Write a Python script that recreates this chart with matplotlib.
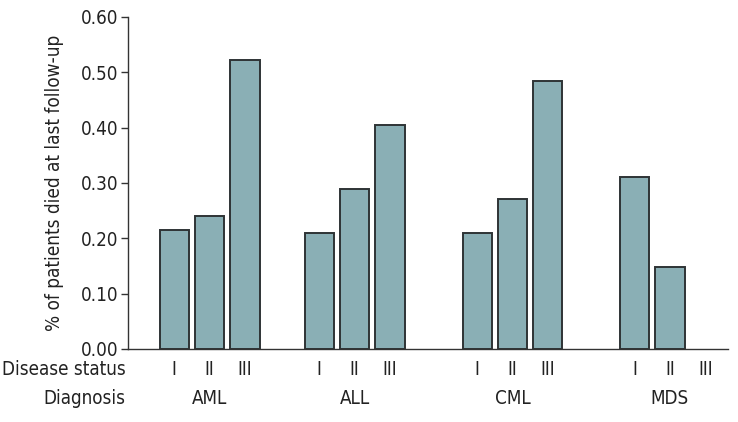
import matplotlib
matplotlib.use('Agg')
import matplotlib.pyplot as plt
import matplotlib.transforms as mtransforms

plt.rcParams['font.family'] = ['DejaVu Sans']
plt.rcParams['font.stretch'] = 'condensed'

# data
diagnosis = ['AML', 'ALL', 'CML', 'MDS']
status = ['I', 'II', 'III']
died = {
    'AML': [0.215, 0.241, 0.523],
    'ALL': [0.210, 0.289, 0.405],
    'CML': [0.210, 0.271, 0.485],
    'MDS': [0.311, 0.148, 0.0],
}
yticks = [0.0, 0.1, 0.2, 0.3, 0.4, 0.5, 0.6]

# layout (x in pixel-like units)
group_center = [209.5, 354.5, 512.5, 670.0]
slot = 35.3
bar_w = 29.4
bar_color = '#8aafb5'
edge_color = '#2e3335'
txt = '#222222'

fig = plt.figure(figsize=(7.38, 4.22), dpi=100)
ax = fig.add_axes([128/738, (422-349)/422, 600/738, 332/422])
trans = mtransforms.blended_transform_factory(ax.transData, ax.transAxes)

for g, name in enumerate(diagnosis):
    xs = [group_center[g] + (i-1)*slot for i in range(3)]
    vals = died[name]
    for x, v in zip(xs, vals):
        if v > 0:
            ax.bar(x, v, width=bar_w, color=bar_color, edgecolor=edge_color, linewidth=1.4, zorder=2)
    for x, s in zip(xs, status):
        ax.text(x, -0.063, s, transform=trans, ha='center', va='center', fontsize=13.5, color=txt)
    ax.text(group_center[g], -0.148, name, transform=trans, ha='center', va='center', fontsize=13.5, color=txt)

ax.text(-0.004, -0.063, 'Disease status', transform=ax.transAxes, ha='right', va='center', fontsize=13.5, color=txt)
ax.text(-0.004, -0.148, 'Diagnosis', transform=ax.transAxes, ha='right', va='center', fontsize=13.5, color=txt)

ax.set_xlim(128, 728)
ax.set_ylim(0, 0.6)
ax.set_yticks(yticks)
ax.set_yticklabels(['%.2f' % t for t in yticks], fontsize=13.5, color=txt)
ax.set_xticks([])
ax.tick_params(axis='y', direction='out', length=5, width=1.0, color='#333333', pad=2)
ax.set_ylabel('% of patients died at last follow-up', fontsize=13.6, color=txt, labelpad=12)

for side in ['top', 'right']:
    ax.spines[side].set_visible(False)
ax.spines['left'].set_color('#333333')
ax.spines['bottom'].set_color('#333333')
ax.spines['left'].set_linewidth(1.0)
ax.spines['bottom'].set_linewidth(1.0)

fig.savefig('out.png', dpi=100)
